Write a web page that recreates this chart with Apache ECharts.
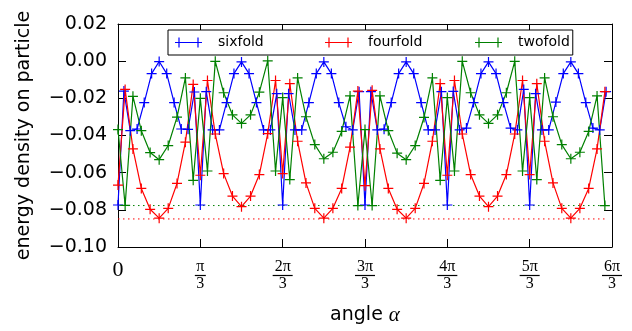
<!DOCTYPE html>
<html>
<head>
<meta charset="utf-8">
<script src="https://cdn.jsdelivr.net/npm/echarts@6/dist/echarts.min.js"></script>
<style>html,body{margin:0;padding:0;background:#fff}#c{width:632px;height:331px}</style>
</head>
<body>
<div id="c"></div>
<script>
// angles (radians) of the sixfold samples
const angleSix = [
  0.0000, 0.0752, 0.1562, 0.2426, 0.3335, 0.4277, 0.5236, 0.6195, 0.7137, 0.8046, 0.8910, 0.9720,
  1.0472, 1.1224, 1.2034, 1.2898, 1.3807, 1.4749, 1.5708, 1.6667, 1.7609, 1.8518, 1.9382, 2.0192,
  2.0944, 2.1696, 2.2506, 2.3370, 2.4279, 2.5221, 2.6180, 2.7139, 2.8081, 2.8990, 2.9854, 3.0664,
  3.1416, 3.2168, 3.2978, 3.3842, 3.4751, 3.5693, 3.6652, 3.7611, 3.8553, 3.9462, 4.0326, 4.1136,
  4.1888, 4.2640, 4.3450, 4.4314, 4.5223, 4.6165, 4.7124, 4.8083, 4.9025, 4.9934, 5.0798, 5.1608,
  5.2360, 5.3112, 5.3922, 5.4786, 5.5695, 5.6637, 5.7596, 5.8555, 5.9497, 6.0406, 6.1270, 6.2080
];
// angles (radians) of the fourfold / twofold samples
const angleFourTwo = [
  0.0000, 0.0907, 0.1901, 0.2966, 0.4086, 0.5236, 0.6386, 0.7506, 0.8571, 0.9565,
  1.0472, 1.1379, 1.2373, 1.3438, 1.4558, 1.5708, 1.6858, 1.7978, 1.9043, 2.0037,
  2.0944, 2.1851, 2.2845, 2.3910, 2.5030, 2.6180, 2.7330, 2.8450, 2.9515, 3.0509,
  3.1416, 3.2323, 3.3317, 3.4382, 3.5502, 3.6652, 3.7802, 3.8922, 3.9987, 4.0981,
  4.1888, 4.2795, 4.3789, 4.4854, 4.5974, 4.7124, 4.8274, 4.9394, 5.0459, 5.1453,
  5.2360, 5.3267, 5.4261, 5.5326, 5.6446, 5.7596, 5.8746, 5.9866, 6.0931, 6.1925
];
const sixfold = [
  -0.0774, -0.0161, -0.0374, -0.0365, -0.0223, -0.0067, -0.0002, -0.0067, -0.0223, -0.0365, -0.0367, -0.0166,
  -0.0774, -0.0164, -0.0370, -0.0370, -0.0223, -0.0067, -0.0004, -0.0067, -0.0223, -0.0370, -0.0370, -0.0175,
  -0.0774, -0.0175, -0.0370, -0.0370, -0.0223, -0.0067, -0.0004, -0.0067, -0.0223, -0.0353, -0.0370, -0.0164,
  -0.0774, -0.0164, -0.0370, -0.0366, -0.0223, -0.0067, -0.0004, -0.0067, -0.0223, -0.0370, -0.0370, -0.0164,
  -0.0774, -0.0163, -0.0370, -0.0360, -0.0223, -0.0067, -0.0004, -0.0067, -0.0223, -0.0360, -0.0370, -0.0152,
  -0.0774, -0.0175, -0.0370, -0.0370, -0.0220, -0.0067, -0.0004, -0.0067, -0.0223, -0.0360, -0.0370, -0.0164
];
const fourfold = [
  -0.0667, -0.0152, -0.0472, -0.0685, -0.0797, -0.0845, -0.0792, -0.0658, -0.0436, -0.0125,
  -0.0614, -0.0104, -0.0392, -0.0605, -0.0726, -0.0783, -0.0726, -0.0610, -0.0390, -0.0104,
  -0.0605, -0.0121, -0.0431, -0.0655, -0.0792, -0.0845, -0.0792, -0.0685, -0.0463, -0.0161,
  -0.0670, -0.0157, -0.0472, -0.0685, -0.0797, -0.0845, -0.0792, -0.0658, -0.0431, -0.0121,
  -0.0614, -0.0104, -0.0392, -0.0610, -0.0726, -0.0783, -0.0726, -0.0610, -0.0392, -0.0104,
  -0.0610, -0.0121, -0.0431, -0.0655, -0.0792, -0.0845, -0.0792, -0.0685, -0.0472, -0.0164
];
const twofold = [
  -0.0368, -0.0776, -0.0189, -0.0374, -0.0492, -0.0530, -0.0454, -0.0301, -0.0090, -0.0641,
  -0.0200, -0.0591, -0.0001, -0.0170, -0.0289, -0.0335, -0.0289, -0.0167,  0.0002, -0.0591,
  -0.0196, -0.0637, -0.0090, -0.0299, -0.0449, -0.0525, -0.0490, -0.0378, -0.0187, -0.0777,
  -0.0368, -0.0777, -0.0187, -0.0374, -0.0495, -0.0530, -0.0454, -0.0303, -0.0090, -0.0641,
  -0.0196, -0.0591, -0.0001, -0.0170, -0.0289, -0.0335, -0.0289, -0.0170, -0.0001, -0.0591,
  -0.0196, -0.0637, -0.0090, -0.0299, -0.0449, -0.0525, -0.0490, -0.0378, -0.0187, -0.0777
];
// dotted reference levels: [green, red]
const refLevels = [-0.0777, -0.0849];
const seriesNames = ['sixfold', 'fourfold', 'twofold'];
const xTickNumerators = ['0', 'π', '2π', '3π', '4π', '5π', '6π'];
const xTickDenominator = '3';

const FONT = 'DejaVu Sans';
const SERIF = 'Liberation Serif';
const plusSym = 'path://M0,4.4h10v1.2h-10z M4.4,0h1.2v10h-1.2z';
const legendIcon = 'path://M0,4.4h27v1.2h-27z M3.4,0h1.2v10h-1.2z M22.4,0h1.2v10h-1.2z';

function pairs(xs, ys) { return xs.map((x, i) => [x, ys[i]]); }

const step = Math.PI / 3;
const tickStyle = { show: true, inside: true, length: 8, lineStyle: { color: '#000', width: 1 } };
const axisLine = { show: true, onZero: false, lineStyle: { color: '#000', width: 1 } };

const chart = echarts.init(document.getElementById('c'), null, { renderer: 'canvas' });
const lineSeries = (name, xs, ys, color) => ({
  name, type: 'line', data: pairs(xs, ys), color,
  symbol: plusSym, symbolSize: 10, showSymbol: true,
  lineStyle: { color, width: 1.2 }, itemStyle: { color },
  animation: false, clip: true, z: 3
});
const refSeries = (v, color) => ({
  type: 'line', data: [[angleFourTwo[0], v], [angleFourTwo[angleFourTwo.length - 1], v]],
  symbol: 'none', lineStyle: { color, width: 1, type: [1.5, 3.5] }, animation: false, silent: true, z: 2
});

chart.setOption({
  backgroundColor: '#fff',
  animation: false,
  grid: { left: 118, right: 20, top: 24, bottom: 82 },
  legend: {
    left: 168, top: 30,
    padding: [4, 3, 4, 7],
    borderColor: '#000', borderWidth: 1, backgroundColor: '#fff',
    itemWidth: 27, itemHeight: 10, itemGap: 0,
    textStyle: { fontFamily: FONT, fontSize: 14, color: '#000', lineHeight: 17, padding: [0, 0, 0, 11] },
    data: [
      { name: 'sixfold', icon: legendIcon, textStyle: { width: 107 } },
      { name: 'fourfold', icon: legendIcon, textStyle: { width: 107 } },
      { name: 'twofold', icon: legendIcon }
    ]
  },
  xAxis: [{
    type: 'value', min: 0, max: 2 * Math.PI, interval: step,
    position: 'bottom',
    axisLine, axisTick: tickStyle, splitLine: { show: false },
    axisLabel: {
      margin: 13, showMinLabel: true, showMaxLabel: true, hideOverlap: false,
      formatter: v => {
        const k = Math.round(v / step);
        if (k === 0) return '{zero|' + xTickNumerators[0] + '}';
        const num = xTickNumerators[k];
        return '{n|' + num + '}\n{' + (num.length > 1 ? 'bw' : 'bn') + '| }\n{d|' + xTickDenominator + '}';
      },
      rich: {
        zero: { fontFamily: SERIF, fontSize: 22, lineHeight: 21, color: '#000' },
        n: { fontFamily: SERIF, fontSize: 16, lineHeight: 13, color: '#000', align: 'center' },
        bn: { width: 11, height: 1.2, lineHeight: 5, backgroundColor: '#000', fontSize: 1, align: 'center' },
        bw: { width: 20, height: 1.2, lineHeight: 5, backgroundColor: '#000', fontSize: 1, align: 'center' },
        d: { fontFamily: SERIF, fontSize: 16, lineHeight: 11, color: '#000', align: 'center' }
      }
    },
    name: '{a|angle }{b|α}', nameLocation: 'middle', nameGap: 58,
    nameTextStyle: {
      rich: {
        a: { fontFamily: FONT, fontSize: 19, color: '#000' },
        b: { fontFamily: SERIF, fontSize: 21, fontStyle: 'italic', color: '#000' }
      }
    }
  }, {
    type: 'value', min: 0, max: 2 * Math.PI, interval: step, position: 'top',
    axisLine, axisTick: tickStyle, axisLabel: { show: false }, splitLine: { show: false }
  }],
  yAxis: [{
    type: 'value', min: -0.10, max: 0.02, interval: 0.02, position: 'left',
    axisLine, axisTick: tickStyle, splitLine: { show: false },
    axisLabel: {
      margin: 11, fontFamily: FONT, fontSize: 19, color: '#000',
      showMinLabel: true, showMaxLabel: true,
      formatter: v => (Math.abs(v) < 1e-9 ? '0.00' : v.toFixed(2).replace('-', '\u2212'))
    },
    name: 'energy density on particle', nameLocation: 'middle', nameGap: 84, nameRotate: 90,
    nameTextStyle: { fontFamily: FONT, fontSize: 19, color: '#000' }
  }, {
    type: 'value', min: -0.10, max: 0.02, interval: 0.02, position: 'right',
    axisLine, axisTick: tickStyle, axisLabel: { show: false }, splitLine: { show: false }
  }],
  series: [
    lineSeries(seriesNames[0], angleSix, sixfold, '#0000ff'),
    lineSeries(seriesNames[1], angleFourTwo, fourfold, '#ff0000'),
    lineSeries(seriesNames[2], angleFourTwo, twofold, '#008000'),
    refSeries(refLevels[0], '#008000'),
    refSeries(refLevels[1], '#ff0000')
  ]
});
</script>
</body>
</html>
